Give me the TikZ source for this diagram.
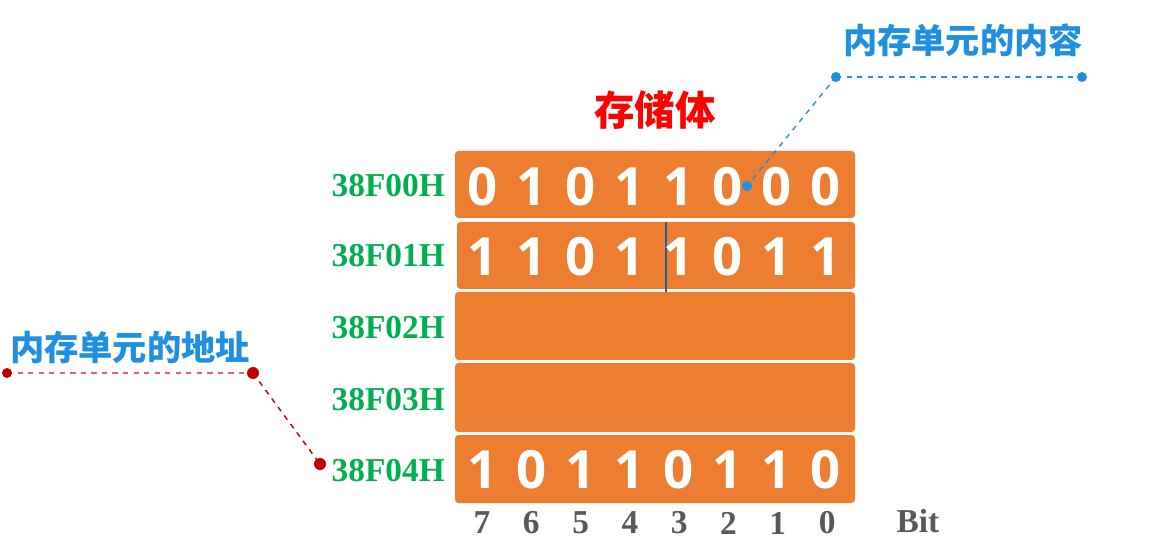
\documentclass[tikz,border=0pt]{standalone}
\usepackage{fontspec}
\setmainfont{Liberation Serif}
\newfontfamily\cjk{Noto Sans CJK SC}
\newfontfamily\digitfont{Open Sans}
\definecolor{cellorange}{HTML}{ED7D31}
\definecolor{addrgreen}{HTML}{00B050}
\definecolor{tagblue}{HTML}{1E8FE1}
\definecolor{dotred}{HTML}{C00000}
\definecolor{bitgray}{HTML}{595959}
\begin{document}
\begin{tikzpicture}[x=0.02cm,y=-0.02cm,
    cell/.style={fill=cellorange, rounded corners=2},
    bitval/.style={text=white, font=\digitfont\bfseries\fontsize{30}{30}\selectfont},
    addr/.style={anchor=east, text=addrgreen, font=\bfseries\fontsize{19}{19}\selectfont},
    bitno/.style={text=bitgray, font=\bfseries\fontsize{19}{19}\selectfont},
    tag/.style={text=tagblue, font=\cjk\bfseries\fontsize{19.5}{19.5}\selectfont}]
    \useasboundingbox (0,0) rectangle (1150,557);

    % Zeilen des Speichers
    \fill[cell] (455,151) rectangle (855,218);
    \fill[cell] (457,222) rectangle (855,289);
    \fill[cell] (455,292) rectangle (855,360);
    \fill[cell] (455,363) rectangle (855,432);
    \fill[cell] (455,435) rectangle (855,503);
    \draw[tagblue!70!black, line width=0.6pt] (666,222) -- (666,292);

    % Inhalte
    \foreach \b [count=\i from 0] in {0,1,0,1,1,0,0,0}
        \node[bitval] (r0b\i) at (483+49*\i,187) {\b};
    \foreach \b [count=\i from 0] in {1,1,0,1,1,0,1,1}
        \node[bitval] (r1b\i) at (483+49*\i,257) {\b};
    \foreach \b [count=\i from 0] in {1,0,1,1,0,1,1,0}
        \node[bitval] (r4b\i) at (483+49*\i,470) {\b};

    % Adressen
    \node[addr] (a0) at (451,186) {38F00H};
    \node[addr] (a1) at (451,256) {38F01H};
    \node[addr] (a2) at (451,328) {38F02H};
    \node[addr] (a3) at (451,400) {38F03H};
    \node[addr] (a4) at (451,471) {38F04H};

    % Bitnummern
    \foreach \n [count=\i from 0] in {7,6,5,4,3,2,1,0}
        \node[bitno] (bit\n) at (482+49.3*\i,523) {\n};
    \node[bitno] (bitlbl) at (918,521) {Bit};

    \node[text=red, font=\cjk\bfseries\fontsize{23}{23}\selectfont] (title) at (655,110) {存储体};

    % Inhalt einer Zelle
    \node[tag] (content) at (963,40) {内存单元的内容};
    \coordinate (c1) at (836,77);
    \coordinate (c2) at (1082,77);
    \coordinate (c3) at (747,186);
    \draw[tagblue, dashed, thick] (c1) -- (c2);
    \draw[tagblue, dashed, thick] (c1) -- (c3);
    \fill[tagblue] (c1) circle (5) (c2) circle (5) (c3) circle (5);

    % Adresse einer Zelle
    \node[tag] (address) at (130,347) {内存单元的地址};
    \coordinate (d1) at (7,373);
    \coordinate (d2) at (253,373);
    \coordinate (d3) at (320,464);
    \draw[dotred!60, dashed, thick] (d1) -- (d2);
    \draw[dotred, dashed, thick] (d2) -- (d3);
    \fill[dotred] (d1) circle (5) (d2) circle (6) (d3) circle (6);
\end{tikzpicture}
\end{document}
